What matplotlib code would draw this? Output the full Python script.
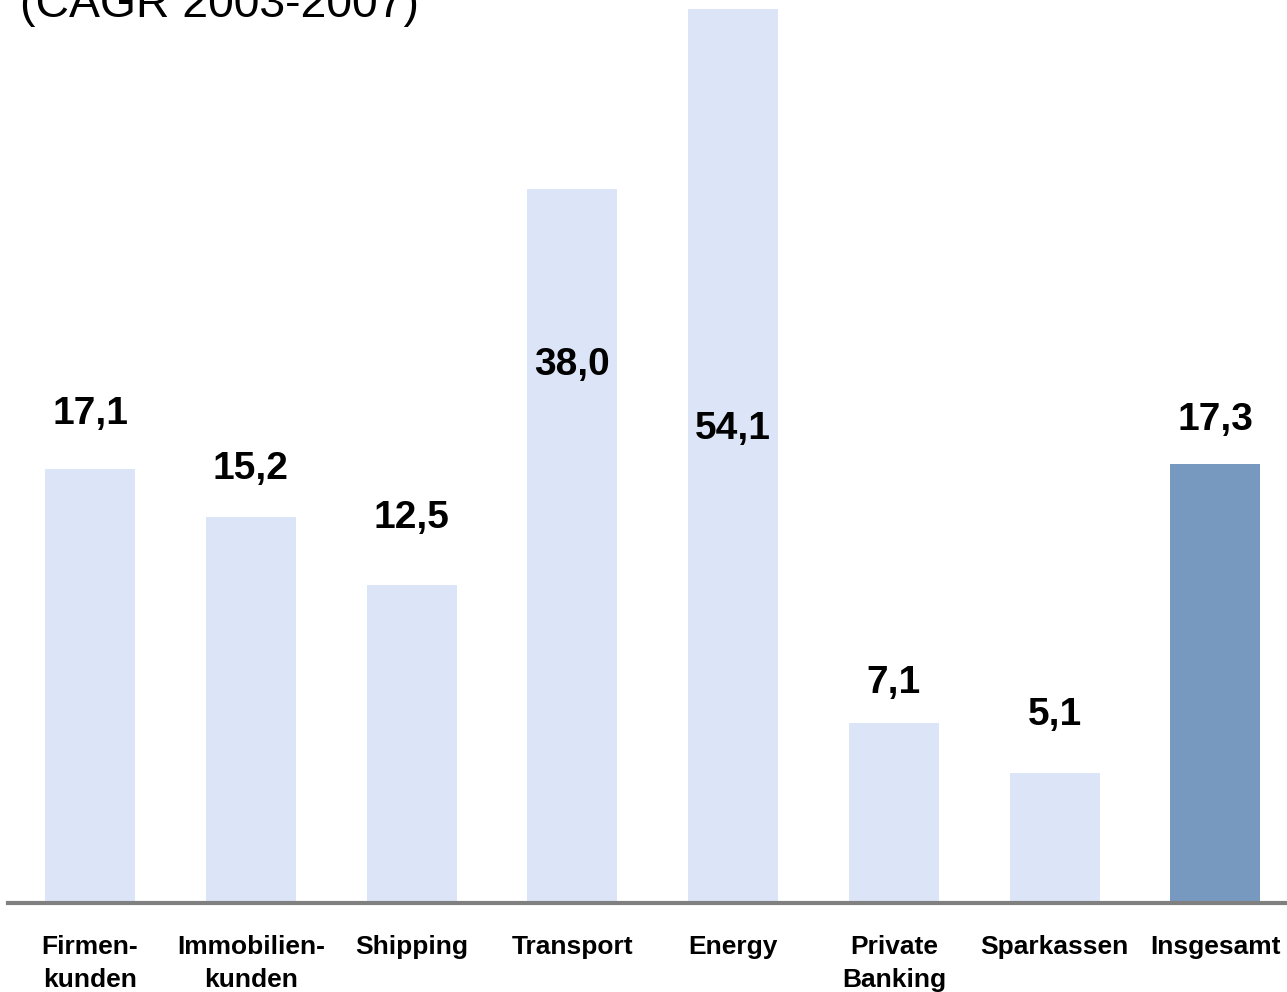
import matplotlib.pyplot as plt

plt.rcParams['font.family'] = ['Liberation Sans', 'DejaVu Sans']

# Data
categories = ['Firmen-\nkunden', 'Immobilien-\nkunden', 'Shipping', 'Transport', 'Energy',
              'Private\nBanking', 'Sparkassen', 'Insgesamt']
values = [17.1, 15.2, 12.5, 38.0, 54.1, 7.1, 5.1, 17.3]
# Transport and Energy are drawn shortened (broken bars) in the original
drawn_heights = [17.1, 15.2, 12.5, 28.1, 35.2, 7.1, 5.1, 17.3]
title = '(CAGR 2003-2007)'

light = '#DCE5F8'
dark = '#7799BF'
colors = [light] * 7 + [dark]
# vertical offset of value labels relative to bar top (pixels)
label_offsets = [55, 48, 67, -176, -420, 40, 58, 44]

fig = plt.figure(figsize=(12.87, 9.92), dpi=100)
ax = fig.add_axes([0, 0, 1, 1])

x = list(range(len(categories)))
ax.bar(x, drawn_heights, width=0.56, color=colors, zorder=2)
ax.set_xlim(-0.56, 7.445)
ax.set_ylim(-3.504, 35.55)
ax.axis('off')

ax.axhline(0, xmin=8 / 1287, xmax=1, color='#808080', lw=3, zorder=3)

for xi, h, v, off in zip(x, drawn_heights, values, label_offsets):
    ax.annotate(f'{v:.1f}'.replace('.', ','), (xi, h), xytext=(0, off * 0.72),
                textcoords='offset points', ha='center', va='center',
                fontsize=28, fontweight='bold')

for xi, cat in zip(x, categories):
    ax.annotate(cat, (xi, 0), xytext=(0, -32 * 0.72), textcoords='offset points',
                ha='center', va='top', fontsize=19, fontweight='bold',
                linespacing=1.45)

fig.text(20 / 1287, 1 - 17 / 992, title, ha='left', va='baseline', fontsize=33.4)

fig.savefig('out.png', dpi=100)
